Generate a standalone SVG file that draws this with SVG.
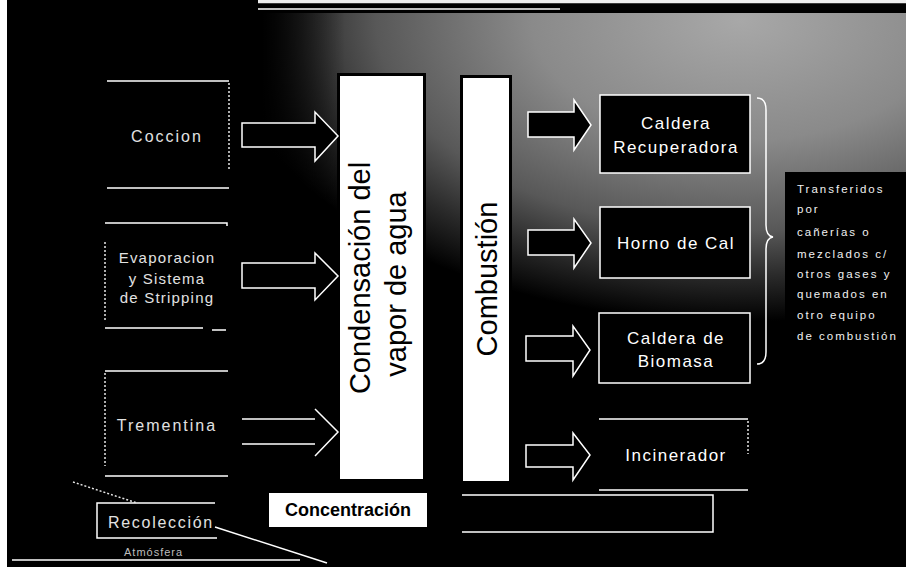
<svg xmlns="http://www.w3.org/2000/svg" width="906" height="567" viewBox="0 0 906 567">
<defs>
<radialGradient id="haze" gradientUnits="userSpaceOnUse" cx="740" cy="20" r="520" gradientTransform="translate(740 20) scale(1 0.58) translate(-740 -20)">
<stop offset="0" stop-color="#a8a8a8"/>
<stop offset="0.4" stop-color="#8a8a8a"/>
<stop offset="0.7" stop-color="#585858"/>
<stop offset="0.85" stop-color="#2a2a2a"/>
<stop offset="1" stop-color="#000"/>
</radialGradient>
<linearGradient id="leftfade" gradientUnits="userSpaceOnUse" x1="262" y1="0" x2="345" y2="0">
<stop offset="0" stop-color="#000" stop-opacity="1"/>
<stop offset="1" stop-color="#000" stop-opacity="0"/>
</linearGradient>
</defs>
<style>
.t{font-family:"Liberation Sans",Arial,sans-serif}
.line{fill:none;stroke:#fff;stroke-width:1.5}
.dot{fill:none;stroke:#e6e6e6;stroke-width:1.5;stroke-dasharray:2 2}
.arrow{fill:#000;stroke:#fff;stroke-width:1.5;stroke-linejoin:miter}
.box{fill:#000;stroke:#fff;stroke-width:1.5}
.lt{fill:#e2e2e2;text-anchor:middle}
.rt{fill:#fff;text-anchor:middle;font-size:17px;letter-spacing:1.5px}
.col{fill:#fff;stroke:#000;stroke-width:3}
.vt{fill:#000;font-size:29px;text-anchor:middle}
.note{fill:#f0f0f0;font-size:11.5px;letter-spacing:2px}
</style>

<g id="background">
<rect x="0" y="0" width="906" height="567" fill="#000"/>
<rect x="258" y="13" width="648" height="320" fill="url(#haze)"/>
<rect x="258" y="13" width="90" height="200" fill="url(#leftfade)"/>
<rect x="785" y="172" width="121" height="395" fill="#000"/>
<rect x="0" y="0" width="7" height="567" fill="#fff"/>
<rect x="258" y="0" width="648" height="3.5" fill="#eee"/>
<rect x="258" y="3.5" width="648" height="9.5" fill="#000"/>
<line x1="258" y1="9" x2="560" y2="9" stroke="#fff" stroke-width="1.5"/>
<line x1="12" y1="560" x2="300" y2="560" stroke="#fff" stroke-width="1.5"/>
</g>

<g id="node-coccion">
<path class="line" d="M107,81 H229 M107,188 H229"/>
<path class="dot" d="M229,83 V170"/>
<text class="t lt" x="167" y="142" font-size="16" letter-spacing="2">Coccion</text>
</g>

<g id="node-evaporacion">
<path class="line" d="M105,223 H227 V226 M105,328 H203 M212,330 H226"/>
<path class="dot" d="M105,242 V320"/>
<text class="t lt" x="167" y="263" font-size="15" letter-spacing="1.2">Evaporacion</text>
<text class="t lt" x="167" y="284" font-size="15" letter-spacing="1.2">y Sistema</text>
<text class="t lt" x="167" y="303" font-size="15" letter-spacing="1.2">de Stripping</text>
</g>

<g id="node-trementina">
<path class="line" d="M105,371 H228 M105,476 H228"/>
<path class="dot" d="M105,373 V466"/>
<text class="t lt" x="167" y="431" font-size="16" letter-spacing="2">Trementina</text>
</g>

<g id="node-condensacion">
<rect class="col" x="338.5" y="74.5" width="86" height="406"/>
<text class="t vt" transform="translate(370 278) rotate(-90)">Condensación del</text>
<text class="t vt" transform="translate(406 284) rotate(-90)">vapor de agua</text>
</g>

<g id="node-combustion">
<rect class="col" x="461.5" y="76.5" width="49" height="406"/>
<text class="t vt" transform="translate(497 279) rotate(-90)">Combustión</text>
</g>

<g id="node-caldera-recuperadora">
<rect class="box" x="600" y="95" width="150" height="78"/>
<text class="t rt" x="676" y="129" letter-spacing="1.2">Caldera</text>
<text class="t rt" x="676" y="153" letter-spacing="1.2">Recuperadora</text>
</g>

<g id="node-horno-de-cal">
<rect class="box" x="600" y="207" width="150" height="71"/>
<text class="t rt" x="676" y="249">Horno de Cal</text>
</g>

<g id="node-caldera-biomasa">
<rect class="box" x="599" y="313" width="151" height="70"/>
<text class="t rt" x="676" y="344">Caldera de</text>
<text class="t rt" x="676" y="367">Biomasa</text>
</g>

<g id="node-incinerador">
<path class="line" d="M599,419 H748 M599,490 H748"/>
<path class="dot" d="M748,421 V454"/>
<text class="t rt" x="676" y="461">Incinerador</text>
</g>

<g id="node-concentracion">
<rect x="269" y="493" width="158" height="34" fill="#fff"/>
<text class="t" x="348" y="516" font-size="18" font-weight="bold" text-anchor="middle" fill="#000">Concentración</text>
<path class="line" d="M462,495 H713 V532 H462"/>
</g>

<g id="node-recoleccion">
<path class="line" d="M215,503 H97 V538 H217"/>
<text class="t" x="108" y="528" font-size="16" letter-spacing="1.7" fill="#e2e2e2">Recolección</text>
<text class="t" x="124" y="556" font-size="11" letter-spacing="1" fill="#bdbdbd">Atmósfera</text>
<path class="line" d="M215,527 L327,563"/>
<path class="dot" d="M73,482 L137,503"/>
</g>

<g id="node-note">
<text class="t note" x="797" y="193">Transferidos</text>
<text class="t note" x="797" y="213">por</text>
<text class="t note" x="797" y="236">cañerías o</text>
<text class="t note" x="797" y="258">mezclados c/</text>
<text class="t note" x="797" y="278">otros gases y</text>
<text class="t note" x="797" y="298">quemados en</text>
<text class="t note" x="797" y="319">otro equipo</text>
<text class="t note" x="797" y="340">de combustión</text>
</g>

<g id="connectors">
<path class="arrow" d="M242,123 H315 V112 L338,136 L315,161 V147 H242 Z"/>
<path class="arrow" d="M242,263 H315 V253 L338,276 L315,300 V288 H242 Z"/>
<path class="line" d="M242,419 H315 M242,444 H315 M315,409 L338,432 L315,456"/>
<path class="arrow" d="M528,112 H574 V100 L591,125 L574,150 V137 H528 Z"/>
<path class="arrow" d="M528,230 H574 V219 L591,243 L574,268 V255 H528 Z"/>
<path class="arrow" d="M526,336 H573 V326 L590,350 L573,376 V361 H526 Z"/>
<path class="arrow" d="M526,445 H573 V433 L590,455 L573,480 V467 H526 Z"/>
<path class="line" d="M757,98 Q766,98 766,110 V225 Q766,236 773,237 Q766,238 766,249 V352 Q766,364 757,364"/>
</g>
</svg>
